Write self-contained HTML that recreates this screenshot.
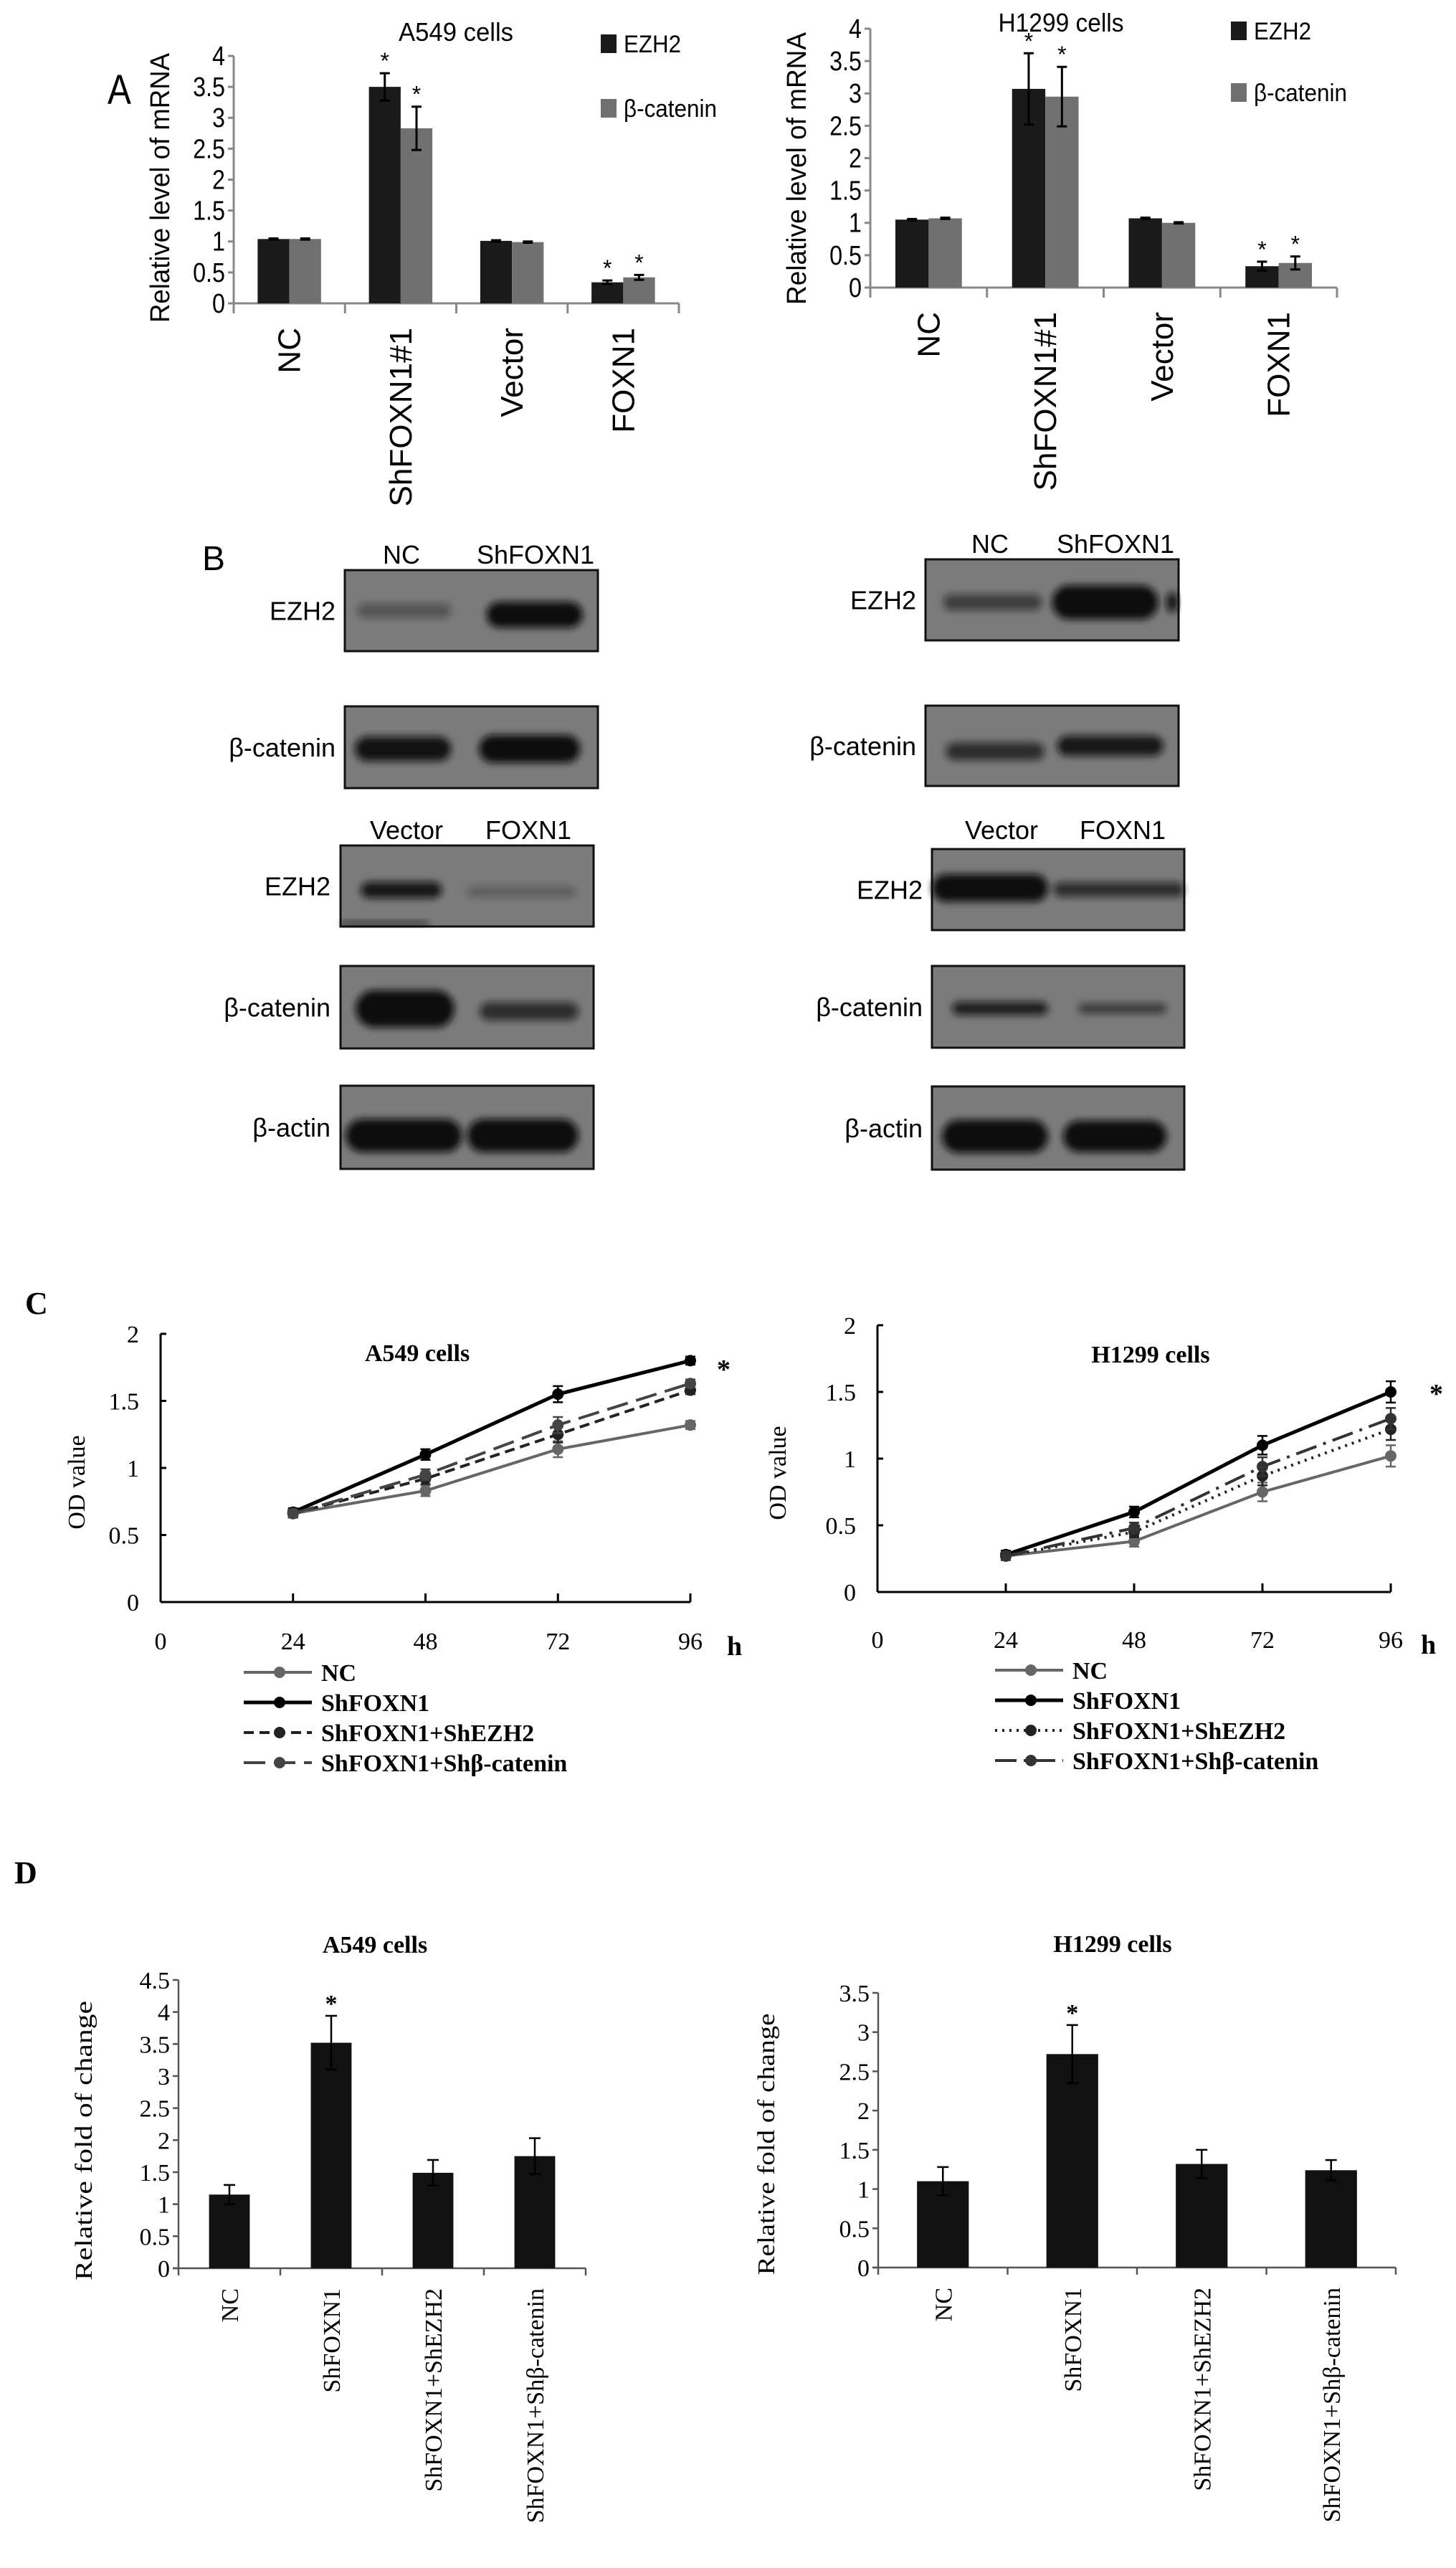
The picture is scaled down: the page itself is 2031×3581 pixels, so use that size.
<!DOCTYPE html>
<html><head><meta charset="utf-8">
<style>
html,body{margin:0;padding:0;background:#fff;}
svg{display:block;}
.sans{font-family:"Liberation Sans",sans-serif;}
.serif{font-family:"Liberation Serif",serif;}
</style></head>
<body>
<svg id="fig" width="2031" height="3581" viewBox="0 0 2031 3581" xmlns="http://www.w3.org/2000/svg">
<defs>
<filter id="blur" x="-20%" y="-100%" width="140%" height="300%"><feGaussianBlur stdDeviation="5"/></filter>
</defs>
<g id="root"></g>
</svg>
<script>
// ---------- Panel A data ----------
const aCats = ["NC","ShFOXN1#1","Vector","FOXN1"];
const aYTicks = [0,0.5,1,1.5,2,2.5,3,3.5,4];
const aLeftEzh2 = [1.04,3.5,1.01,0.34];
const aLeftEzh2Err = [0.01,0.22,0.01,0.03];
const aLeftBcat = [1.04,2.83,0.99,0.42];
const aLeftBcatErr = [0.01,0.35,0.01,0.04];
const aRightEzh2 = [1.05,3.07,1.07,0.33];
const aRightEzh2Err = [0.01,0.55,0.01,0.07];
const aRightBcat = [1.07,2.95,1.0,0.38];
const aRightBcatErr = [0.01,0.46,0.01,0.1];
const aLeftStars = [[false,true,false,true],[false,true,false,true]];
const aRightStars = [[false,true,false,true],[false,true,false,true]];
// ---------- Panel C data ----------
const cHours = [24,48,72,96];
const cXTicks = [0,24,48,72,96];
const cYTicks = [0,0.5,1,1.5,2];
const cSeriesNames = ["NC","ShFOXN1","ShFOXN1+ShEZH2","ShFOXN1+Shβ-catenin"];
const cLeftNC = [0.66,0.83,1.14,1.32];
const cLeftSh = [0.67,1.10,1.55,1.80];
const cLeftEzh2 = [0.66,0.92,1.25,1.58];
const cLeftBcat = [0.66,0.95,1.32,1.63];
const cLeftErr = [0.03,0.04,0.06,0.03];
const cRightNC = [0.27,0.38,0.75,1.02];
const cRightSh = [0.28,0.60,1.10,1.50];
const cRightEzh2 = [0.27,0.45,0.87,1.22];
const cRightBcat = [0.27,0.48,0.94,1.30];
const cRightErr = [0.03,0.04,0.07,0.08];
// ---------- Panel D data ----------
const dCats = ["NC","ShFOXN1","ShFOXN1+ShEZH2","ShFOXN1+Shβ-catenin"];
const dLeftTicks = [0,0.5,1,1.5,2,2.5,3,3.5,4,4.5];
const dLeftVals = [1.15,3.52,1.49,1.75];
const dLeftErr = [0.15,0.42,0.2,0.28];
const dRightTicks = [0,0.5,1,1.5,2,2.5,3,3.5];
const dRightVals = [1.10,2.72,1.32,1.24];
const dRightErr = [0.18,0.37,0.18,0.13];

const NS="http://www.w3.org/2000/svg";
const root=document.getElementById('root');
function el(tag,attrs,parent,text){
  const e=document.createElementNS(NS,tag);
  for(const k in attrs) e.setAttribute(k,attrs[k]);
  if(text!==undefined) e.textContent=text;
  (parent||root).appendChild(e);
  return e;
}
function grp(name,parent){
  const g=el('g',{},parent);
  
  
  return g;
}
function txt(parent,name,x,y,s,size,cls,anchor,extra){
  const t=el('text',Object.assign({x:x,y:y,'font-size':size,'class':cls,'text-anchor':anchor||'start',fill:'#000'},extra||{}),parent,s);
  
  
  return t;
}

// ---------- Panel A ----------
function panelA(cfg){
  const g=grp(cfg.name);
  const ys=v=>cfg.y0-(v/4)*(cfg.y0-cfg.yTop);
  const band=(cfg.xEnd-cfg.x0)/aCats.length;
  const ax=el('line',{x1:cfg.x0,y1:cfg.yTop,x2:cfg.x0,y2:cfg.y0,stroke:'#888','stroke-width':3},g);
  
  
  const bx=el('line',{x1:cfg.x0-8,y1:cfg.y0,x2:cfg.xEnd,y2:cfg.y0,stroke:'#888','stroke-width':3},g);
  
  
  aYTicks.forEach(t=>{
    el('line',{x1:cfg.x0-8,y1:ys(t),x2:cfg.x0,y2:ys(t),stroke:'#888','stroke-width':3},g);
    txt(g,'y-tick-label',cfg.x0-12,ys(t)+13,String(t),38,'sans','end',{transform:`translate(${cfg.x0-12},0) scale(0.85,1) translate(${-(cfg.x0-12)},0)`});
  });
  for(let i=0;i<=aCats.length;i++){
    el('line',{x1:cfg.x0+band*i,y1:cfg.y0,x2:cfg.x0+band*i,y2:cfg.y0+14,stroke:'#888','stroke-width':3},g);
  }
  const bw=band*0.285;
  aCats.forEach((c,i)=>{
    const cx=cfg.x0+band*(i+0.5);
    const series=[[cfg.ezh2,cfg.ezh2Err,'#1a1a1a','ezh2'],[cfg.bcat,cfg.bcatErr,'#707070','bcat']];
    series.forEach((s,k)=>{
      const x=cx-bw+k*bw;
      const r=el('rect',{x:x,y:ys(s[0][i]),width:bw,height:cfg.y0-ys(s[0][i]),fill:s[2]},g);
      
      
      const mx=x+bw/2, hi=ys(s[0][i]+s[1][i]), lo=ys(s[0][i]-s[1][i]);
      el('path',{d:`M${mx},${hi}V${lo}M${mx-7},${hi}H${mx+7}M${mx-7},${lo}H${mx+7}`,stroke:'#000','stroke-width':3},g);
      if(cfg.stars[k][i]) txt(g,'significance-star',mx,hi-6,'*',32,'sans','middle');
    });
    const lx=cx+15, ly=cfg.y0+34;
    txt(g,'x-tick-label',lx,ly,c,44,'sans','end',{transform:`rotate(-90 ${lx} ${ly})`});
  });
  txt(g,'chart-title',cfg.titleX,cfg.titleY,cfg.title,36,'sans','middle',{textLength:cfg.titleW,lengthAdjust:'spacingAndGlyphs'});
  const yl=cfg.yLabelX, ylc=cfg.yLabelC;
  txt(g,'y-axis-title',yl,ylc,'Relative level of mRNA',38,'sans','middle',{transform:`rotate(-90 ${yl} ${ylc})`,textLength:cfg.yLabelLen,lengthAdjust:'spacingAndGlyphs'});
  const l1=el('rect',{x:cfg.legX,y:cfg.legY1,width:22,height:26,fill:'#1a1a1a'},g);
  
  
  txt(g,'legend-label-ezh2',cfg.legX+32,cfg.legY1+25,'EZH2',34,'sans','start',{textLength:80,lengthAdjust:'spacingAndGlyphs'});
  const l2=el('rect',{x:cfg.legX,y:cfg.legY2,width:22,height:26,fill:'#707070'},g);
  
  
  txt(g,'legend-label-bcatenin',cfg.legX+32,cfg.legY2+25,'β-catenin',34,'sans','start',{textLength:130,lengthAdjust:'spacingAndGlyphs'});
}
panelA({name:'panel-a-a549',x0:326,y0:423,yTop:78,xEnd:947,ezh2:aLeftEzh2,ezh2Err:aLeftEzh2Err,bcat:aLeftBcat,bcatErr:aLeftBcatErr,stars:aLeftStars,title:'A549 cells',titleX:636,titleY:57,titleW:160,yLabelX:236,yLabelC:262,yLabelLen:376,legX:838,legY1:48,legY2:138});
panelA({name:'panel-a-h1299',x0:1214,y0:401,yTop:40,xEnd:1865,ezh2:aRightEzh2,ezh2Err:aRightEzh2Err,bcat:aRightBcat,bcatErr:aRightBcatErr,stars:aRightStars,title:'H1299 cells',titleX:1480,titleY:44,titleW:175,yLabelX:1124,yLabelC:235,yLabelLen:380,legX:1717,legY1:30,legY2:116});
txt(root,'panel-label-a',150,145,'A',58,'sans','start',{transform:'translate(150,0) scale(0.85,1) translate(-150,0)'});

// ---------- Panel B (western blots) ----------
txt(root,'panel-label-b',282,795,'B',48,'sans','start');
function blot(name,x,y,w,h,bands,label,labelRight){
  const g=grp(name);
  const r=el('rect',{x:x,y:y,width:w,height:h,fill:'#7b7b7b',stroke:'#111','stroke-width':3},g);
  
  
  bands.forEach(b=>{
    const bh=h*b[3];
    const e=el('rect',{x:x+w*b[0],y:y+h*b[4]-bh/2,width:w*(b[1]-b[0]),height:bh,rx:bh/2,fill:'#0a0a0a',opacity:b[2],filter:'url(#blur)'},g);
    
    
  });
  txt(g,'blot-row-label',labelRight,y+h/2+13,label,36,'sans','end');
}
function lanes(g,names,xs,y){
  names.forEach((n,i)=>txt(g,'lane-label',xs[i],y,n,36,'sans','middle'));
}
const bl=grp('panel-b-a549');
lanes(bl,['NC','ShFOXN1'],[560,747],786);
blot('blot-a549-ezh2-sh',481,795,353,113,[[0.05,0.42,0.35,0.18,0.5],[0.56,0.94,1,0.32,0.55]],'EZH2',468);
blot('blot-a549-bcat-sh',481,985,353,114,[[0.04,0.42,0.95,0.3,0.52],[0.53,0.93,1,0.34,0.52]],'β-catenin',468);
lanes(bl,['Vector','FOXN1'],[567,737],1170);
blot('blot-a549-ezh2-ox',475,1179,353,113,[[0.08,0.40,0.9,0.2,0.55],[0.50,0.93,0.25,0.14,0.57],[0.0,0.35,0.8,0.04,0.96]],'EZH2',461);
blot('blot-a549-bcat-ox',475,1347,353,115,[[0.06,0.45,1,0.45,0.52],[0.55,0.94,0.7,0.22,0.55]],'β-catenin',461);
blot('blot-a549-actin',475,1514,353,116,[[0.02,0.48,1,0.4,0.6],[0.50,0.94,1,0.4,0.6]],'β-actin',461);
const br=grp('panel-b-h1299');
lanes(br,['NC','ShFOXN1'],[1381,1556],771);
blot('blot-h1299-ezh2-sh',1291,780,353,113,[[0.07,0.46,0.55,0.2,0.53],[0.50,0.92,1,0.42,0.53],[0.95,1.0,0.9,0.25,0.53]],'EZH2',1278);
blot('blot-h1299-bcat-sh',1291,984,353,112,[[0.08,0.47,0.7,0.22,0.57],[0.52,0.94,0.9,0.25,0.5]],'β-catenin',1278);
lanes(br,['Vector','FOXN1'],[1397,1566],1170);
blot('blot-h1299-ezh2-ox',1300,1184,352,113,[[0.0,0.46,1,0.34,0.48],[0.48,1.0,0.7,0.18,0.5]],'EZH2',1287);
blot('blot-h1299-bcat-ox',1300,1347,352,114,[[0.08,0.46,0.85,0.16,0.52],[0.58,0.93,0.6,0.12,0.52]],'β-catenin',1287);
blot('blot-h1299-actin',1300,1515,352,116,[[0.04,0.46,1,0.4,0.6],[0.52,0.93,1,0.38,0.6]],'β-actin',1287);

// ---------- Panel C ----------
txt(root,'panel-label-c',35,1832,'C',44,'serif','start',{'font-weight':'bold'});
function panelC(cfg){
  const g=grp(cfg.name);
  const xs=h=>cfg.x0+(h/96)*(cfg.x96-cfg.x0);
  const ys=v=>cfg.y0-(v/2)*(cfg.y0-cfg.y2);
  const ya=el('line',{x1:cfg.x0,y1:cfg.y2,x2:cfg.x0,y2:cfg.y0,stroke:'#000','stroke-width':3},g);
  
  
  const xa=el('line',{x1:cfg.x0,y1:cfg.y0,x2:cfg.x96,y2:cfg.y0,stroke:'#000','stroke-width':3},g);
  
  
  cYTicks.forEach(t=>{
    el('line',{x1:cfg.x0,y1:ys(t),x2:cfg.x0+8,y2:ys(t),stroke:'#000','stroke-width':3},g);
    txt(g,'y-tick-label',cfg.x0-30,ys(t)+12,String(t),34,'serif','end');
  });
  cXTicks.forEach(t=>{
    if(t>0) el('line',{x1:xs(t),y1:cfg.y0-12,x2:xs(t),y2:cfg.y0,stroke:'#000','stroke-width':3},g);
    txt(g,'x-tick-label',xs(t),cfg.labY,String(t),34,'serif','middle');
  });
  txt(g,'x-axis-unit',cfg.hX,cfg.labY+8,'h',38,'serif','start',{'font-weight':'bold'});
  txt(g,'chart-title',cfg.titleX,cfg.titleY,cfg.title,34,'serif','middle',{'font-weight':'bold'});
  const ylx=cfg.yLabelX, ylc=(cfg.y0+cfg.y2)/2+20;
  txt(g,'y-axis-title',ylx,ylc,'OD    value',34,'serif','middle',{transform:`rotate(-90 ${ylx} ${ylc})`});
  const series=[cfg.nc,cfg.sh,cfg.ezh2,cfg.bcat];
  series.forEach((s,k)=>{
    const st=cfg.styles[k];
    const d=s.map((v,i)=>(i?'L':'M')+xs(cHours[i])+','+ys(v)).join('');
    const p=el('path',{d:d,fill:'none',stroke:st.c,'stroke-width':st.w,'stroke-dasharray':st.dash},g);
    
    
    s.forEach((v,i)=>{
      const x=xs(cHours[i]), e=cfg.err[i];
      el('path',{d:`M${x},${ys(v+e)}V${ys(v-e)}M${x-7},${ys(v+e)}H${x+7}M${x-7},${ys(v-e)}H${x+7}`,stroke:st.c,'stroke-width':2.5},g);
      const c=el('circle',{cx:x,cy:ys(v),r:8,fill:st.c},g);
      
      
    });
  });
  txt(g,'significance-star',cfg.starX,cfg.starY,'*',38,'serif','start',{'font-weight':'bold'});
  cSeriesNames.forEach((n,k)=>{
    const st=cfg.styles[k], ly=cfg.legY+k*cfg.legStep;
    const lg=grp('legend-entry-'+n,g);
    el('line',{x1:cfg.legX,y1:ly,x2:cfg.legX+95,y2:ly,stroke:st.c,'stroke-width':st.w,'stroke-dasharray':st.dash},lg);
    el('circle',{cx:cfg.legX+50,cy:ly,r:8,fill:st.c},lg);
    txt(lg,'legend-label',cfg.legX+108,ly+12,n,34,'serif','start',{'font-weight':'bold'});
  });
}
panelC({name:'panel-c-a549',x0:224,x96:963,y0:2234,y2:1860,labY:2300,hX:1014,title:'A549  cells',titleX:582,titleY:1898,yLabelX:118,
  nc:cLeftNC,sh:cLeftSh,ezh2:cLeftEzh2,bcat:cLeftBcat,err:cLeftErr,starX:1000,starY:1922,
  styles:[{c:'#666',w:4,dash:'none'},{c:'#000',w:5,dash:'none'},{c:'#222',w:4,dash:'14,8'},{c:'#444',w:4,dash:'30,12'}],
  legX:340,legY:2332,legStep:42});
panelC({name:'panel-c-h1299',x0:1224,x96:1940,y0:2220,y2:1848,labY:2298,hX:1982,title:'H1299  cells',titleX:1605,titleY:1900,yLabelX:1096,
  nc:cRightNC,sh:cRightSh,ezh2:cRightEzh2,bcat:cRightBcat,err:cRightErr,starX:1994,starY:1956,
  styles:[{c:'#666',w:4,dash:'none'},{c:'#000',w:5,dash:'none'},{c:'#222',w:4,dash:'3,7'},{c:'#333',w:4,dash:'30,10,4,10'}],
  legX:1388,legY:2329,legStep:42});

// ---------- Panel D ----------
txt(root,'panel-label-d',20,2626,'D',44,'serif','start',{'font-weight':'bold'});
function panelD(cfg){
  const g=grp(cfg.name);
  const max=cfg.ticks[cfg.ticks.length-1];
  const ys=v=>cfg.y0-(v/max)*(cfg.y0-cfg.yTop);
  const band=(cfg.xEnd-cfg.x0)/dCats.length;
  const ya=el('line',{x1:cfg.x0,y1:cfg.yTop,x2:cfg.x0,y2:cfg.y0,stroke:'#555','stroke-width':2.5},g);
  
  
  const xa=el('line',{x1:cfg.x0-8,y1:cfg.y0,x2:cfg.xEnd,y2:cfg.y0,stroke:'#555','stroke-width':2.5},g);
  
  
  cfg.ticks.forEach(t=>{
    el('line',{x1:cfg.x0-8,y1:ys(t),x2:cfg.x0,y2:ys(t),stroke:'#555','stroke-width':2.5},g);
    txt(g,'y-tick-label',cfg.x0-12,ys(t)+12,String(t),34,'serif','end');
  });
  for(let i=0;i<=dCats.length;i++) el('line',{x1:cfg.x0+band*i,y1:cfg.y0,x2:cfg.x0+band*i,y2:cfg.y0+10,stroke:'#555','stroke-width':2.5},g);
  const bw=band*cfg.bwFrac;
  dCats.forEach((c,i)=>{
    const cx=cfg.x0+band*(i+0.5);
    const v=cfg.vals[i], e=cfg.err[i];
    const r=el('rect',{x:cx-bw/2,y:ys(v),width:bw,height:cfg.y0-ys(v),fill:'#111'},g);
    
    
    el('path',{d:`M${cx},${ys(v+e)}V${ys(v-e)}M${cx-8},${ys(v+e)}H${cx+8}M${cx-8},${ys(v-e)}H${cx+8}`,stroke:'#000','stroke-width':2.5},g);
    if(i===1) txt(g,'significance-star',cx,ys(v+e)-6,'*',34,'serif','middle',{'font-weight':'bold'});
    const lx=cx+12, ly=cfg.y0+28;
    txt(g,'x-tick-label',lx,ly,c,34,'serif','end',{transform:`rotate(-90 ${lx} ${ly})`});
  });
  txt(g,'chart-title',cfg.titleX,cfg.titleY,cfg.title,34,'serif','middle',{'font-weight':'bold'});
  const ylx=cfg.yLabelX, ylc=cfg.yLabelC;
  txt(g,'y-axis-title',ylx,ylc,'Relative  fold of change',34,'serif','middle',{transform:`rotate(-90 ${ylx} ${ylc})`,textLength:cfg.yLabelLen,lengthAdjust:'spacingAndGlyphs'});
}
panelD({name:'panel-d-a549',x0:249,y0:3163,yTop:2761,xEnd:817,ticks:dLeftTicks,vals:dLeftVals,err:dLeftErr,bwFrac:0.4,title:'A549  cells',titleX:523,titleY:2723,yLabelX:128,yLabelC:2985,yLabelLen:390});
panelD({name:'panel-d-h1299',x0:1225,y0:3162,yTop:2779,xEnd:1947,ticks:dRightTicks,vals:dRightVals,err:dRightErr,bwFrac:0.4,title:'H1299  cells',titleX:1552,titleY:2722,yLabelX:1080,yLabelC:2990,yLabelLen:365});
</script>
</body></html>
